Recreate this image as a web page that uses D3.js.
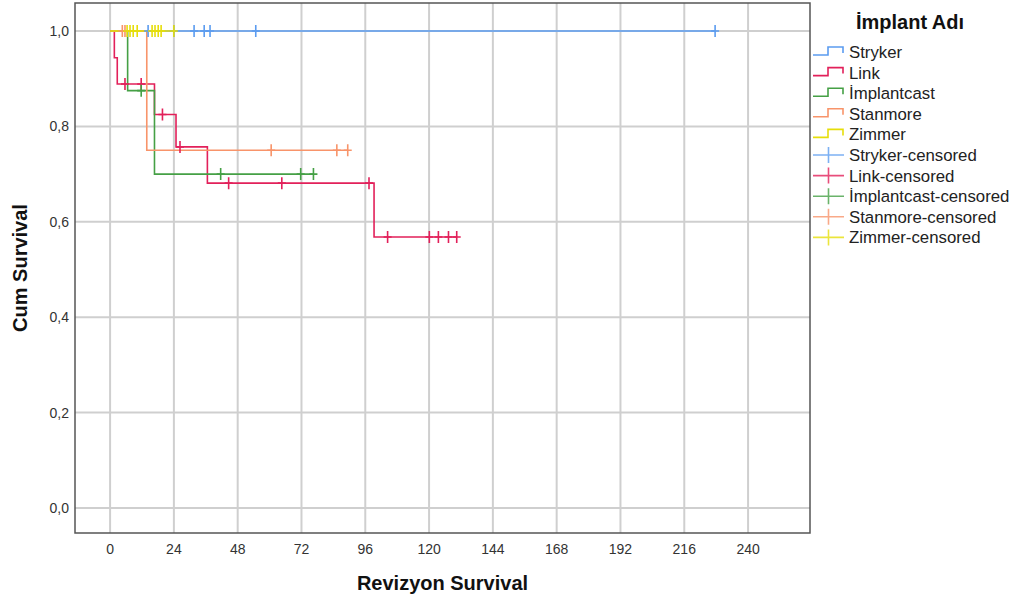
<!DOCTYPE html>
<html lang="tr">
<head>
<meta charset="utf-8">
<title>Kaplan-Meier</title>
<script src="https://cdn.jsdelivr.net/npm/d3@7"></script>
<style>
  body { margin: 0; background: #fff; }
  svg text { font-family: "Liberation Sans", Arial, sans-serif; }
  .grid line { stroke: #cfcfcf; stroke-width: 2px; }
  .tick-label { font-size: 14px; fill: #333; }
  .axis-title { font-size: 20px; font-weight: bold; fill: #111; }
  .legend text { font-size: 16.8px; fill: #222; }
</style>
</head>
<body>
<div id="chart"></div>
<script>
// groups and colours
var groups = ["Stryker", "Link", "İmplantcast", "Stanmore", "Zimmer"];
var colors = ["#5b9cf0", "#e2205a", "#45a045", "#f8946a", "#e6de0a"];

// step curves: times where S(t) changes, and S after that time
var strykerT = [0],                           strykerS = [1];
var linkT = [0, 1.6, 2.7, 16.7, 24.8, 36.6, 99.3];
var linkS = [1, 0.944, 0.889, 0.825, 0.757, 0.681, 0.568];
var implantcastT = [0, 6.6, 16.7],            implantcastS = [1, 0.875, 0.70];
var stanmoreT = [0, 13.8],                    stanmoreS = [1, 0.75];
var zimmerT = [0],                            zimmerS = [1];

// last follow-up time of each curve
var endTimes = [227.6, 130.4, 76.5, 89.4, 24];

// censored times
var strykerC = [14.3, 24, 31.6, 35.4, 37.6, 54.8, 227.6];
var linkC = [5.6, 11.7, 19.7, 26.3, 44.6, 64.6, 97.4, 104.4, 120.1, 123.5, 127.3, 130.4];
var implantcastC = [11.7, 41.6, 71.7, 76.5];
var stanmoreC = [4.6, 5.6, 60.6, 85.3, 89.4];
var zimmerC = [6.4, 7.5, 8.7, 10.2, 15.8, 16.9, 18.1, 19.2, 24];

var xTicks = [0, 24, 48, 72, 96, 120, 144, 168, 192, 216, 240];
var yTicks = [0, 0.2, 0.4, 0.6, 0.8, 1.0];

var stepT = [strykerT, linkT, implantcastT, stanmoreT, zimmerT];
var stepS = [strykerS, linkS, implantcastS, stanmoreS, zimmerS];
var censT = [strykerC, linkC, implantcastC, stanmoreC, zimmerC];

var width = 1015, height = 601;
var pLeft = 75, pRight = 810, pTop = 3, pBottom = 533;

var svg = d3.select("#chart").append("svg")
    .attr("width", width)
    .attr("height", height);

var x = d3.scaleLinear().domain([-13.2, 263.3]).range([pLeft, pRight]);
var y = d3.scaleLinear().domain([-0.0524, 1.0587]).range([pBottom, pTop]);

var fmt = d3.formatLocale({decimal: ",", thousands: ".", grouping: [3], currency: ["", ""]}).format(".1f");

// grid
var grid = svg.append("g").attr("class", "grid");
grid.selectAll(".gx").data(xTicks).enter().append("line")
    .attr("x1", function(d) { return x(d); }).attr("x2", function(d) { return x(d); })
    .attr("y1", pTop).attr("y2", pBottom);
grid.selectAll(".gy").data(yTicks).enter().append("line")
    .attr("x1", pLeft).attr("x2", pRight)
    .attr("y1", function(d) { return y(d); }).attr("y2", function(d) { return y(d); });

// tick labels
svg.append("g").selectAll("text").data(xTicks).enter().append("text")
    .attr("class", "tick-label")
    .attr("x", function(d) { return x(d); })
    .attr("y", 554)
    .attr("text-anchor", "middle")
    .text(function(d) { return d; });

svg.append("g").selectAll("text").data(yTicks).enter().append("text")
    .attr("class", "tick-label")
    .attr("x", 69)
    .attr("y", function(d) { return y(d) + 5; })
    .attr("text-anchor", "end")
    .text(function(d) { return fmt(d); });

// step value at time t
function survAt(i, t) {
  var s = stepS[i][0];
  stepT[i].forEach(function(tt, k) { if (tt <= t) s = stepS[i][k]; });
  return s;
}

var line = d3.line().x(function(d) { return x(d[0]); }).y(function(d) { return y(d[1]); });

// curves
groups.forEach(function(g, i) {
  var pts = [];
  stepT[i].forEach(function(t, k) {
    if (k > 0) pts.push([t, stepS[i][k - 1]]);
    pts.push([t, stepS[i][k]]);
  });
  pts.push([endTimes[i], stepS[i][stepS[i].length - 1]]);
  svg.append("path")
      .datum(pts)
      .attr("d", line)
      .attr("fill", "none")
      .attr("stroke", colors[i])
      .attr("stroke-width", 1.6);
});

// censored marks
groups.forEach(function(g, i) {
  svg.append("g").selectAll("path").data(censT[i]).enter().append("path")
      .attr("d", function(t) {
        var px = x(t), py = y(survAt(i, t));
        return "M" + px + "," + (py - 6) + "V" + (py + 6) + "M" + (px - 4) + "," + py + "H" + (px + 4);
      })
      .attr("stroke", colors[i])
      .attr("stroke-width", 1.6)
      .attr("fill", "none");
});

// frame
svg.append("rect")
    .attr("x", pLeft).attr("y", pTop)
    .attr("width", pRight - pLeft).attr("height", pBottom - pTop)
    .attr("fill", "none")
    .attr("stroke", "#555")
    .attr("stroke-width", 1.5);

// axis titles
svg.append("text")
    .attr("class", "axis-title")
    .attr("x", (pLeft + pRight) / 2)
    .attr("y", 590)
    .attr("text-anchor", "middle")
    .text("Revizyon Survival");

svg.append("text")
    .attr("class", "axis-title")
    .attr("transform", "translate(27," + ((pTop + pBottom) / 2) + ") rotate(-90)")
    .attr("text-anchor", "middle")
    .text("Cum Survival");

// legend
var legend = svg.append("g").attr("class", "legend");
legend.append("text")
    .attr("x", 910).attr("y", 29)
    .attr("text-anchor", "middle")
    .style("font-size", "20px")
    .style("font-weight", "bold")
    .style("fill", "#111")
    .text("İmplant Adı");

var items = groups.map(function(g, i) { return {name: g, c: colors[i], cens: false}; })
  .concat(groups.map(function(g, i) { return {name: g + "-censored", c: colors[i], cens: true}; }));

var row = legend.selectAll(".row").data(items).enter().append("g")
    .attr("transform", function(d, i) { return "translate(0," + (52 + i * 20.6) + ")"; });

row.append("path")
    .attr("d", function(d) {
      return d.cens ? "M813,0H844M828.5,-8V8" : "M813,3H828V-5H843V1";
    })
    .attr("fill", "none")
    .attr("stroke", function(d) { return d.c; })
    .attr("stroke-width", 1.6)
    .attr("stroke-opacity", function(d) { return d.cens ? 0.8 : 1; });

row.append("text")
    .attr("x", 849)
    .attr("y", 6)
    .text(function(d) { return d.name; });
</script>
</body>
</html>
